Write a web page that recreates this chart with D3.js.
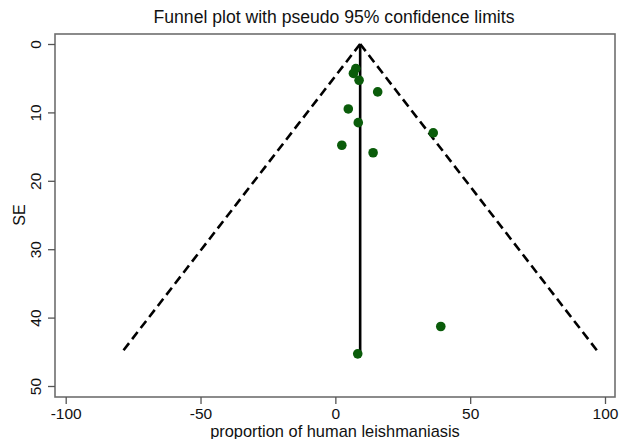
<!DOCTYPE html>
<html>
<head>
<meta charset="utf-8">
<script src="https://cdn.jsdelivr.net/npm/d3@7"></script>
<style>
html,body{margin:0;padding:0;background:#fff;}
svg{display:block;font-family:"Liberation Sans",Arial,sans-serif;}
</style>
</head>
<body>
<script>
// Data
const studyEstimates = [7.6, 6.7, 8.8, 15.7, 4.8, 8.5, 2.4, 14.0, 36.3, 39.1, 8.3];
const studySE        = [3.6, 4.3, 5.3, 7.0, 9.5, 11.5, 14.8, 15.9, 13.0, 41.3, 45.3];
const pooledEstimate = 9.2;
const maxSE = 45.3;
const xTicks = [-100, -50, 0, 50, 100];
const yTicks = [0, 10, 20, 30, 40, 50];
const titleText = "Funnel plot with pseudo 95% confidence limits";
const xLabel = "proportion of human leishmaniasis";
const yLabel = "SE";

const W = 619, H = 439;
const plot = {left: 55, right: 615, top: 34, bottom: 397};

const svg = d3.select("body").append("svg").attr("width", W).attr("height", H);

const x = d3.scaleLinear().domain([-100, 100]).range([65.7, 605]);
const y = d3.scaleLinear().domain([0, 50]).range([44, 386]);

// frame
svg.append("rect")
  .attr("x", plot.left).attr("y", plot.top)
  .attr("width", plot.right - plot.left).attr("height", plot.bottom - plot.top)
  .attr("fill", "none").attr("stroke", "#6e6e6e").attr("stroke-width", 1.6);

// x axis
const xAxis = svg.append("g").attr("transform", `translate(0,${plot.bottom})`)
  .call(d3.axisBottom(x).tickValues(xTicks).tickSize(7).tickPadding(4).tickFormat(d3.format("d")));
xAxis.select(".domain").remove();
xAxis.selectAll("line").attr("stroke", "#555").attr("stroke-width", 1.3);
xAxis.selectAll("text").attr("font-size", 15.5).attr("fill", "#111")
  .attr("font-family", "Liberation Sans, Arial, sans-serif").text(d => d < 0 ? "-" + Math.abs(d) : d);

// y axis
const yAxis = svg.append("g").attr("transform", `translate(${plot.left},0)`)
  .call(d3.axisLeft(y).tickValues(yTicks).tickSize(7).tickFormat(d3.format("d")));
yAxis.select(".domain").remove();
yAxis.selectAll("line").attr("stroke", "#555").attr("stroke-width", 1.3);
yAxis.selectAll("text").remove();
yAxis.selectAll(".tick").append("text")
  .attr("transform", "translate(-14,0) rotate(-90)")
  .attr("text-anchor", "middle")
  .attr("font-size", 15.5).attr("fill", "#111")
  .attr("font-family", "Liberation Sans, Arial, sans-serif")
  .text(d => d);

// funnel lines
const funnelLeft = [[pooledEstimate, 0], [pooledEstimate - 1.96 * maxSE, maxSE]];
const funnelRight = [[pooledEstimate, 0], [pooledEstimate + 1.96 * maxSE, maxSE]];
const line = d3.line().x(d => x(d[0])).y(d => y(d[1]));
[funnelLeft, funnelRight].forEach(seg => {
  svg.append("path").attr("d", line(seg))
    .attr("fill", "none").attr("stroke", "#000").attr("stroke-width", 2.6)
    .attr("stroke-dasharray", "9,5");
});
svg.append("path").attr("d", line([[pooledEstimate, 0], [pooledEstimate, maxSE]]))
  .attr("fill", "none").attr("stroke", "#000").attr("stroke-width", 2.6);

// points
svg.append("g").selectAll("circle")
  .data(studyEstimates.map((e, i) => [e, studySE[i]]))
  .join("circle")
  .attr("cx", d => x(d[0])).attr("cy", d => y(d[1]))
  .attr("r", 4.8).attr("fill", "#0a5c0a");

// titles
svg.append("text").attr("x", 334).attr("y", 23).attr("text-anchor", "middle")
  .attr("font-size", 17.6).attr("fill", "#111").text(titleText);
svg.append("text").attr("x", 335).attr("y", 437).attr("text-anchor", "middle")
  .attr("font-size", 16.4).attr("fill", "#111").text(xLabel);
svg.append("text").attr("transform", "translate(25,215) rotate(-90)").attr("text-anchor", "middle")
  .attr("font-size", 16).attr("fill", "#111").text(yLabel);
</script>
</body>
</html>
